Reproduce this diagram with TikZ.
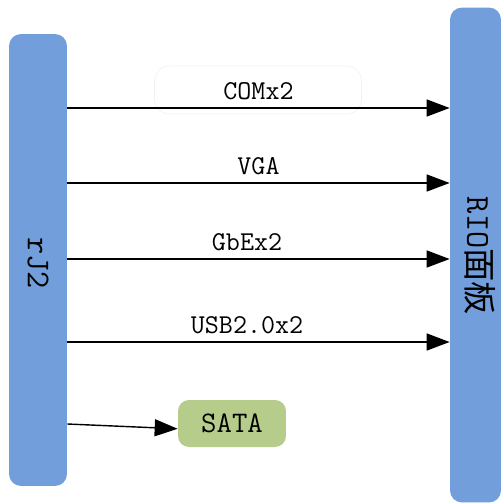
\documentclass[tikz,border=0pt]{standalone}
\usepackage{fontspec}
\newfontfamily\cjk{Noto Sans CJK SC}
\usepackage{tikz}
\usetikzlibrary{arrows.meta,positioning}
\definecolor{barblue}{RGB}{114,159,220}
\definecolor{satagreen}{RGB}{182,204,138}
\definecolor{faintgray}{RGB}{242,242,242}

\begin{document}
\begin{tikzpicture}[x=0.02cm,y=-0.02cm,
    bar/.style={fill=barblue,rounded corners=0.24cm,inner sep=0pt},
    lbl/.style={font=\ttfamily\fontsize{15.5}{17}\selectfont,above=1pt},
    arr/.style={-{Triangle[length=0.46cm,width=0.34cm]},thick},
    ]
        \useasboundingbox (0,0) rectangle (502,504);
        \node[bar,minimum width=1.16cm,minimum height=9.04cm] (rj2) at (38,260) {};
        \node[bar,minimum width=1.02cm,minimum height=9.9cm] (rio) at (475.5,255) {};
        \node[rotate=-90,font=\ttfamily\fontsize{19}{21}\selectfont] (rj2txt) at (38,263) {rJ2};
        \node[rotate=-90,font=\ttfamily\fontsize{19}{21}\selectfont] (riotxt) at (480,256) {RIO{\cjk 面板}};
        \node[draw=faintgray,rounded corners=0.3cm,minimum width=4.14cm,minimum height=0.96cm] (combox) at (258,90) {};
        \node[fill=satagreen,rounded corners=0.22cm,minimum width=2.16cm,minimum height=0.94cm,font=\ttfamily\fontsize{17}{19}\selectfont] (sata) at (232,423.5) {SATA};
        \coordinate (y1) at (0,108);
        \coordinate (y2) at (0,183);
        \coordinate (y3) at (0,259);
        \coordinate (y4) at (0,342);
        \coordinate (y5) at (0,424);
        \draw[arr] (rj2.east |- y1) -- node[lbl] (com) {COMx2} (rio.west |- y1);
        \draw[arr] (rj2.east |- y2) -- node[lbl] (vga) {VGA} (rio.west |- y2);
        \draw[arr] (rj2.east |- y3) -- node[lbl,pos=0.47] (gbe) {GbEx2} (rio.west |- y3);
        \draw[arr] (rj2.east |- y4) -- node[lbl,pos=0.47] (usb) {USB2.0x2} (rio.west |- y4);
        \draw[arr] (rj2.east |- y5) -- ([yshift=-3]sata.west);
    \end{tikzpicture}
\end{document}
